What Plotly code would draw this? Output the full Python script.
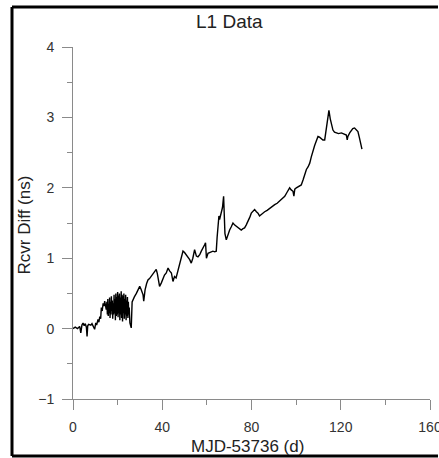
import plotly.graph_objects as go

# MJD-53736 (d)
days = [0, 1, 2, 3, 3.5, 4, 4.5, 5, 5.5, 6, 6.3, 6.6, 7, 8, 8.5, 9, 9.7, 10.2, 10.6, 11.2,
        11.6, 12, 12.4, 12.7, 13.1, 13.5, 13.9, 14.2, 14.6, 14.9,
        15.2, 15.4, 15.6, 15.8, 16.0, 16.2, 16.4, 16.6, 16.8, 17.0, 17.2, 17.4, 17.6, 17.8,
        18.0, 18.2, 18.4, 18.6, 18.8, 19.0, 19.2, 19.4, 19.6, 19.8, 20.0, 20.2, 20.4, 20.6,
        20.8, 21.0, 21.2, 21.4, 21.6, 21.8, 22.0, 22.2, 22.4, 22.6, 22.8, 23.0, 23.2, 23.4,
        23.6, 23.8, 24.0, 24.2, 24.4, 24.6, 24.8, 25.0, 25.2, 25.5, 25.8, 26.1,
        26.5, 26.9, 27.5, 28.4, 29.0, 29.9, 30.5, 31.0, 31.4, 31.7, 32.3, 33.0, 33.6, 34.3,
        35.0, 35.9, 36.6, 37.3, 37.8, 38.3, 38.8, 39.6, 40.3, 41.0, 41.8, 42.6, 43.3, 44.1,
        44.8, 45.5, 46.2, 47.0, 47.8, 48.6, 49.3, 50.0, 50.8, 51.5, 52.3, 53.0, 53.7, 54.5,
        55.3, 56.0, 56.8, 57.5, 58.3, 59.0, 59.4, 59.8, 60.5, 61.5, 62.7, 63.5, 64.2, 64.6,
        65.0, 65.4, 65.7, 66.1, 66.5, 67.0, 67.5, 67.8, 68.1, 68.7, 69.4, 70.2, 71.0, 71.7,
        72.5, 73.2, 74.3, 75.4, 76.2, 76.9, 77.6, 78.4, 79.2, 79.9, 80.6, 81.4, 82.2, 82.9,
        83.6, 84.4, 85.2, 85.9, 87.0, 88.1, 89.2, 90.4, 91.5, 92.6, 93.8, 94.9, 96.0, 97.1,
        97.8, 98.6, 99.0, 99.4, 100.1, 101.2, 102.3, 103.1, 103.8, 104.6, 105.4, 106.1, 106.8,
        107.6, 108.3, 109.0, 109.8, 110.5, 111.3, 112.0, 112.8, 113.3, 113.8, 114.3, 114.7,
        115.3, 115.9, 116.5, 117.2, 118.0, 119.0, 120.3, 121.4, 122.5, 122.9, 123.2, 124.0,
        124.7, 125.4, 126.2, 127.0, 127.7, 128.3, 128.8, 129.2, 129.5]

# Rcvr Diff (ns)
rcvr_diff = [0, 0.02, 0.0, 0.03, -0.06, 0.05, 0.08, 0.04, 0.07, 0.02, -0.11, 0.04, 0.06, 0.05,
             0.07, 0.03, -0.01, 0.08, 0.05, 0.13, 0.09, 0.17, 0.14, 0.3, 0.25, 0.36, 0.32, 0.39,
             0.3, 0.27,
             0.38, 0.2, 0.42, 0.18, 0.35, 0.22, 0.44, 0.15, 0.38, 0.2, 0.46, 0.25, 0.4, 0.14,
             0.36, 0.2, 0.48, 0.22, 0.42, 0.12, 0.5, 0.18, 0.45, 0.2, 0.52, 0.16, 0.47, 0.22,
             0.5, 0.12, 0.44, 0.2, 0.53, 0.15, 0.48, 0.1, 0.46, 0.22, 0.5, 0.14, 0.42, 0.2,
             0.48, 0.12, 0.4, 0.18, 0.45, 0.15, 0.38, 0.2, 0.3, 0.08, 0.03, 0.01,
             0.38, 0.4, 0.45, 0.5, 0.55, 0.6, 0.56, 0.52, 0.48, 0.39, 0.55, 0.64, 0.69, 0.71,
             0.74, 0.77, 0.8, 0.84, 0.78, 0.68, 0.6, 0.65, 0.7, 0.76, 0.79, 0.86, 0.82, 0.79,
             0.67, 0.74, 0.72, 0.81, 0.9, 1.02, 1.1, 1.08, 1.05, 1.02, 0.98, 0.93, 1.0, 1.12,
             1.03, 1.02, 1.05, 1.1, 1.14, 1.19, 1.22, 1.0, 1.07, 1.08, 1.1, 1.09, 1.1, 1.3,
             1.45, 1.6, 1.55, 1.62, 1.64, 1.72, 1.88, 1.55, 1.35, 1.26, 1.33, 1.4, 1.45, 1.5,
             1.47, 1.45, 1.43, 1.4, 1.42, 1.43, 1.47, 1.52, 1.58, 1.64, 1.67, 1.69, 1.66, 1.64,
             1.6, 1.62, 1.65, 1.66, 1.68, 1.71, 1.73, 1.76, 1.78, 1.81, 1.84, 1.88, 1.94, 2.0,
             1.97, 1.95, 1.88, 1.98, 2.0, 2.02, 2.04, 2.11, 2.18, 2.26, 2.3, 2.35, 2.44,
             2.54, 2.6, 2.66, 2.73, 2.72, 2.7, 2.68, 2.68, 2.8, 2.95, 3.03, 3.1,
             2.98, 2.9, 2.82, 2.79, 2.78, 2.77, 2.78, 2.76, 2.75, 2.68, 2.73, 2.78,
             2.82, 2.84, 2.85, 2.82, 2.8, 2.72, 2.65, 2.59, 2.55]

x_ticks = [0, 40, 80, 120, 160]
y_ticks = [-1, 0, 1, 2, 3, 4]

FONT = "Liberation Sans, Arial, sans-serif"
AXIS_COLOR = "#8a8a8a"
TEXT_COLOR = "#333333"

fig = go.Figure()
fig.add_trace(go.Scatter(x=days, y=rcvr_diff, mode="lines",
                         line=dict(color="black", width=1.4), showlegend=False,
                         hoverinfo="skip"))

axis_common = dict(showline=True, linecolor=AXIS_COLOR, linewidth=1,
                   ticks="outside", ticklen=10, tickcolor=AXIS_COLOR, tickwidth=1,
                   showgrid=False, zeroline=False, showspikes=False, automargin=False,
                   tickfont=dict(family=FONT, size=14, color=TEXT_COLOR))

# frame edges in paper coordinates (plot area: 73..430 px wide, 47..399 px tall)
fx0, fx1 = (12 - 73) / 357, (438 - 73) / 357
fy0, fy1 = (399 - 456) / 352, (399 - 7) / 352
frame_line = dict(color="black", width=3)

fig.update_layout(
    width=439, height=458, autosize=False,
    margin=dict(l=73, r=9, t=47, b=59, autoexpand=False),
    paper_bgcolor="white", plot_bgcolor="white",
    hovermode=False,
    xaxis=dict(range=[0, 160], tickvals=x_ticks, ticklabelstandoff=5,
               ticklabeloverflow="allow",
               minor=dict(ticks="outside", ticklen=5, tickcolor=AXIS_COLOR, dtick=20, tick0=0),
               **axis_common),
    yaxis=dict(range=[-1, 4], tickvals=y_ticks, ticklabelstandoff=5,
               minor=dict(ticks="outside", ticklen=5, tickcolor=AXIS_COLOR, dtick=0.5, tick0=0),
               **axis_common),
    annotations=[
        dict(text="L1 Data", xref="paper", yref="paper",
             x=(229 - 73) / 357, y=(399 - 21.5) / 352, xanchor="center", yanchor="middle",
             showarrow=False, font=dict(family=FONT, size=19, color="#222222")),
        dict(text="MJD-53736 (d)", xref="paper", yref="paper",
             x=(247 - 73) / 357, y=(399 - 446) / 352, xanchor="center", yanchor="middle",
             showarrow=False, font=dict(family=FONT, size=17, color="#222222")),
        dict(text="Rcvr Diff (ns)", xref="paper", yref="paper", textangle=-90,
             x=(24.5 - 73) / 357, y=(399 - 225) / 352, xanchor="center", yanchor="middle",
             showarrow=False, font=dict(family=FONT, size=17, color="#222222")),
    ],
    shapes=[
        dict(type="line", xref="paper", yref="paper", x0=fx0, x1=fx0, y0=fy0, y1=fy1,
             line=frame_line, layer="above"),
        dict(type="line", xref="paper", yref="paper", x0=fx0, x1=fx1, y0=fy1, y1=fy1,
             line=frame_line, layer="above"),
        dict(type="line", xref="paper", yref="paper", x0=fx0, x1=fx1, y0=fy0, y1=fy0,
             line=frame_line, layer="above"),
    ],
)

fig.write_html(
    "out.html", config={"displayModeBar": False, "staticPlot": True},
    post_script=(
        "document.documentElement.style.overflow='hidden';"
        "document.body.style.margin='0';document.body.style.overflow='hidden';"
    ),
)
